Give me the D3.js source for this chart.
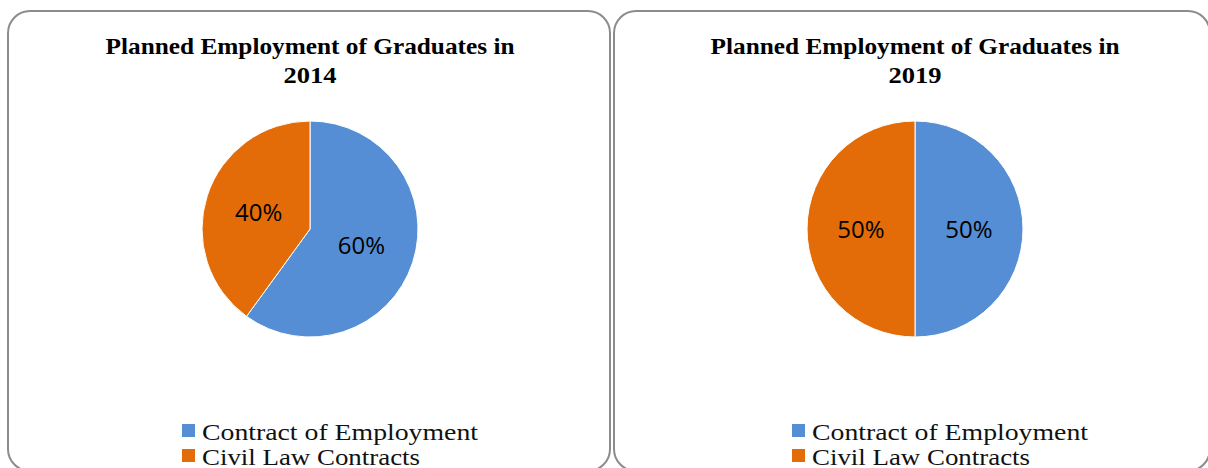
<!DOCTYPE html>
<html>
<head>
<meta charset="utf-8">
<script src="https://cdn.jsdelivr.net/npm/d3@7"></script>
<style>
  html, body { margin: 0; padding: 0; background: #ffffff; }
  svg { display: block; }
</style>
</head>
<body>
<svg id="chart" width="1208" height="468"></svg>
<script>
// Employment form shares planned for graduates
const categories = ["Contract of Employment", "Civil Law Contracts"];
const years = ["2014", "2019"];
const shares2014 = [60, 40];
const shares2019 = [50, 50];
const titlePrefix = "Planned Employment of Graduates in";

const colors = ["#558ed5", "#e36c09"];

const svg = d3.select("#chart");

// Two framed chart panels side by side
const panels = [
  { year: years[0], values: shares2014, x: 8, w: 602, cx: 310, legendX: 182 },
  { year: years[1], values: shares2019, x: 614, w: 596, cx: 915, legendX: 792 }
];

const panelTop = 11, panelH = 460, radius = 108, cy = 229;

const pie = d3.pie().sort(null).value(d => d);
const arc = d3.arc().innerRadius(0).outerRadius(radius);
const labelArc = d3.arc().innerRadius(radius * 0.5).outerRadius(radius * 0.5);

panels.forEach(p => {
  const g = svg.append("g");

  g.append("rect")
    .attr("x", p.x).attr("y", panelTop)
    .attr("width", p.w).attr("height", panelH)
    .attr("rx", 22).attr("ry", 22)
    .attr("fill", "#ffffff")
    .attr("stroke", "#8c8c8c")
    .attr("stroke-width", 2);

  // Title, two lines
  const title = g.append("text")
    .attr("font-family", "'Liberation Serif', 'DejaVu Serif', serif")
    .attr("font-weight", "bold")
    .attr("font-size", 24)
    .attr("fill", "#000")
    .attr("text-anchor", "middle");
  title.append("tspan")
    .attr("x", p.cx).attr("y", 54)
    .attr("textLength", 409).attr("lengthAdjust", "spacingAndGlyphs")
    .text(titlePrefix);
  title.append("tspan")
    .attr("x", p.cx).attr("y", 83)
    .attr("textLength", 53).attr("lengthAdjust", "spacingAndGlyphs")
    .text(p.year);

  // Pie
  const arcs = pie(p.values);
  const pg = g.append("g").attr("transform", `translate(${p.cx},${cy})`);
  pg.selectAll("path.slice")
    .data(arcs)
    .join("path")
    .attr("class", "slice")
    .attr("d", arc)
    .attr("fill", (d, i) => colors[i])
    .attr("stroke", "#ffffff")
    .attr("stroke-width", 1);

  pg.selectAll("text.lbl")
    .data(arcs)
    .join("text")
    .attr("class", "lbl")
    .attr("transform", d => `translate(${labelArc.centroid(d)})`)
    .attr("text-anchor", "middle")
    .attr("dy", "0.36em")
    .attr("font-family", "'Open Sans', 'Liberation Sans', sans-serif")
    .attr("font-size", 24)
    .attr("fill", "#000")
    .text(d => d.data + "%");

  // Legend
  const lg = g.append("g");
  const items = lg.selectAll("g.item")
    .data(categories)
    .join("g")
    .attr("class", "item")
    .attr("transform", (d, i) => `translate(${p.legendX},${424 + i * 25})`);
  items.append("rect")
    .attr("width", 13).attr("height", 13)
    .attr("fill", (d, i) => colors[i]);
  items.append("text")
    .attr("x", 20).attr("y", 16)
    .attr("font-family", "'Liberation Serif', 'DejaVu Serif', serif")
    .attr("font-size", 24)
    .attr("fill", "#111")
    .attr("textLength", (d, i) => i === 0 ? 276 : 218)
    .attr("lengthAdjust", "spacingAndGlyphs")
    .text(d => d);
});
</script>
</body>
</html>
